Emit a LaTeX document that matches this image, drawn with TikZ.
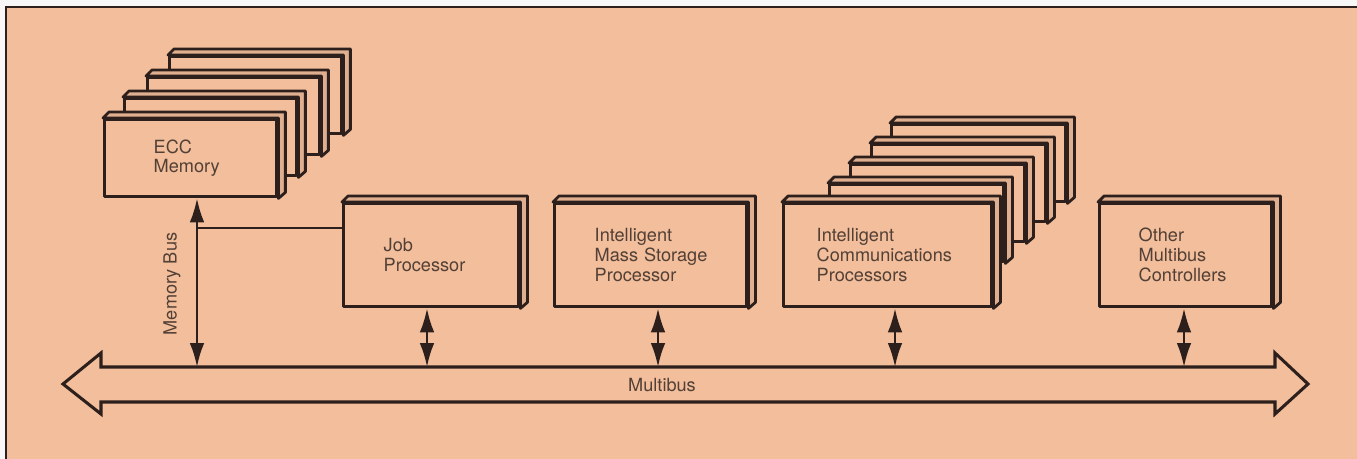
\documentclass[tikz,border=0pt]{standalone}
\usepackage{fontspec}
\setmainfont{TeX Gyre Heros}
\usetikzlibrary{arrows.meta}
\newlength\unitpx
\setlength\unitpx{0.03cm}
\definecolor{paper}{RGB}{242,190,155}
\definecolor{ink}{RGB}{45,32,28}
\definecolor{print}{RGB}{82,64,54}
\tikzset{
  slab/.style={draw=ink, fill=paper, line width=2.9pt, line join=round, anchor=north west,
    inner ysep=0pt, align=left, text=print, font=\fontsize{15.5}{17}\selectfont},
  bevel/.style={draw=ink, fill=paper!92!black, line width=2.4pt, line join=round},
  wire/.style={draw=ink, line width=2pt},
  dbl/.style={wire, {Latex[length=0.72cm,width=0.44cm]}-{Latex[length=0.72cm,width=0.44cm]}},
  buslabel/.style={text=print, font=\fontsize{15.5}{17}\selectfont},
}
\newcommand\slabdepth[1]{%
  \filldraw[bevel] (#1.north west) -- ++(6,-6) -- ([shift={(7,-6)}]#1.north east)
    -- ([shift={(7,-6)}]#1.south east) -- (#1.south east) -- (#1.north east) -- cycle;}

\begin{document}
\begin{tikzpicture}[x=\unitpx, y=-\unitpx]
\useasboundingbox (0,0) rectangle (1357,459);
\fill[white!94!gray] (0,0) rectangle (1357,459);
\fill[paper] (6,7) rectangle (1357,459);
\draw[ink, line width=1.5pt] (6,459) -- (6,7) -- (1357,7);

% memory stack
\foreach \i/\x/\y in {4/168/55, 3/146/76, 2/123/97}{
  \node[slab, minimum width=172\unitpx, minimum height=77\unitpx, inner xsep=0pt] (ecc\i) at (\x,\y) {};
  \slabdepth{ecc\i}
}
\node[slab, text width=74\unitpx, inner xsep=49\unitpx, minimum height=77\unitpx] (ecc) at (103,118) {ECC\\Memory};
\slabdepth{ecc}

% boards on the multibus
\node[slab, text width=95\unitpx, inner xsep=40\unitpx, minimum height=103\unitpx] (job) at (342,202) {Job\\Processor};
\slabdepth{job}
\node[slab, text width=112\unitpx, inner xsep=40\unitpx, minimum height=103\unitpx] (mass) at (553,202) {Intelligent\\\mbox{Mass Storage}\\Processor};
\slabdepth{mass}

\foreach \i/\x/\y in {5/890/123, 4/870/143, 3/849/163, 2/828/183}{
  \node[slab, minimum width=174\unitpx, minimum height=77\unitpx, inner xsep=0pt] (comm\i) at (\x,\y) {};
  \slabdepth{comm\i}
}
\node[slab, text width=142\unitpx, inner xsep=33\unitpx, minimum height=103\unitpx] (comm) at (782,202) {Intelligent\\Communications\\Processors};
\slabdepth{comm}

\node[slab, text width=94\unitpx, inner xsep=39\unitpx, minimum height=103\unitpx] (other) at (1098,202) {Other\\Multibus\\Controllers};
\slabdepth{other}

% multibus
\filldraw[draw=ink, fill=paper, line width=2.6pt, line join=miter]
  (63,384) -- (101,353) -- (101,367) -- (1275,367) -- (1275,353) -- (1308,384)
  -- (1275,414) -- (1275,402) -- (101,402) -- (101,414) -- cycle;
\node[buslabel] (multibus-lbl) at (662,385) {Multibus};

\coordinate (tapmem) at (197,367);
\coordinate (tapjob) at (427,367);
\coordinate (tapmass) at (658,367);
\coordinate (tapcomm) at (895,367);
\coordinate (tapother) at (1184,367);
\coordinate (memjoin) at (197,228);

\draw[dbl] (tapmem |- ecc.south) -- (tapmem);
\draw[wire] (memjoin) -- (memjoin -| job.west);
\node[buslabel, rotate=90] (membus-lbl) at (172,284) {Memory Bus};

\draw[dbl] (tapjob |- job.south) -- (tapjob);
\draw[dbl] (tapmass |- mass.south) -- (tapmass);
\draw[dbl] (tapcomm |- comm.south) -- (tapcomm);
\draw[dbl] (tapother |- other.south) -- (tapother);
\end{tikzpicture}
\end{document}
